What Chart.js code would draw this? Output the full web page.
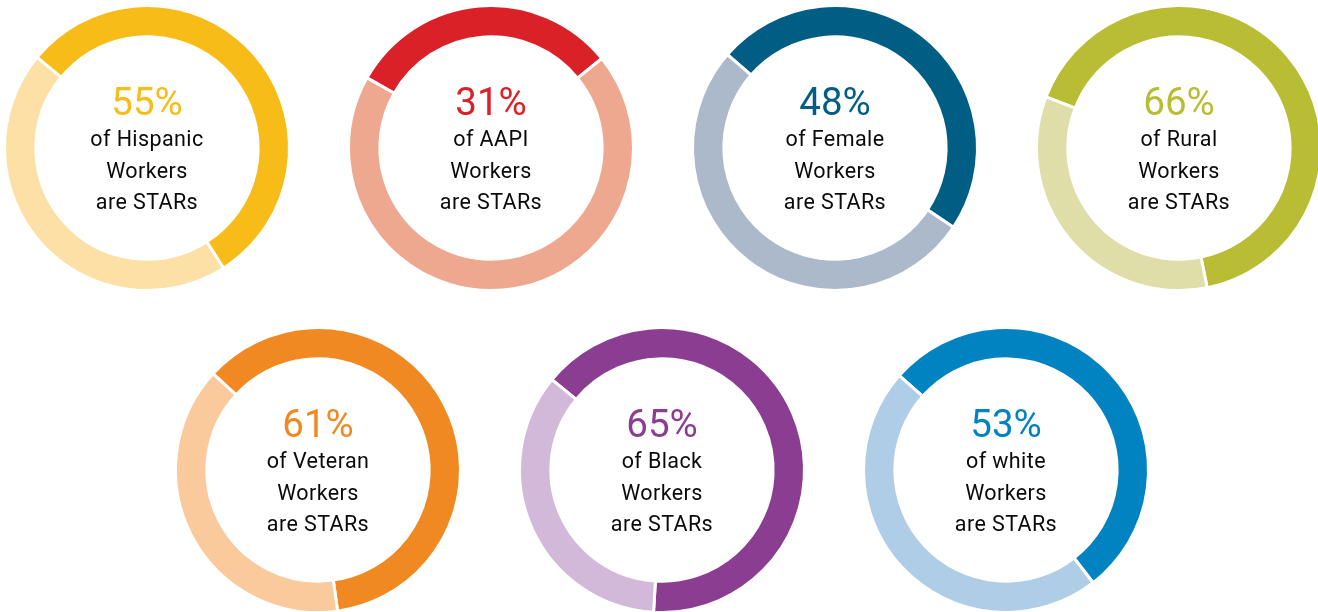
<!DOCTYPE html>
<html>
<head>
<meta charset="utf-8">
<script src="https://cdn.jsdelivr.net/npm/chart.js@4"></script>
<style>
	html, body { margin: 0; padding: 0; background: #fff; }
	body { width: 1318px; height: 612px; position: relative; overflow: hidden; font-family: Roboto, sans-serif; }
	.donut { position: absolute; width: 300px; height: 300px; }
	.donut canvas { position: absolute; left: 0; top: 0; }
	.label { position: absolute; left: 0; width: 300px; text-align: center; color: #0a0a0a; white-space: nowrap; }
	.pct { font-size: 38.5px; line-height: 1; font-weight: 400; }
	.line { font-size: 21.5px; line-height: 1; letter-spacing: 0.4px; }
</style>
</head>
<body>
<script>
const groups = ['Hispanic', 'AAPI', 'Female', 'Rural', 'Veteran', 'Black', 'white'];
const starShares = [55, 31, 48, 66, 61, 65, 53];

const darkColors = ['#f7bc18', '#da2128', '#005e85', '#b8bd33', '#f18922', '#8b3e91', '#0083c0'];
const lightColors = ['#fde0a6', '#eda88f', '#abb9cb', '#dfdea8', '#fac99c', '#d2b8d9', '#afcde6'];
const rotations = [-50.5, -60.5, -49, -69, -47.5, -50.6, -48.5];

function centerOf(i) {
	// four on top, three below shifted half a step
	if (i < 4) return { x: 147 + 344 * i, y: 148 };
	return { x: 318 + 344 * (i - 4), y: 470 };
}

function addLabel(box, text, cls, baseline) {
	const el = document.createElement('div');
	el.className = 'label ' + cls;
	el.textContent = text;
	box.appendChild(el);
	// place so the text baseline sits at the wanted offset from the centre
	const probe = document.createElement('span');
	probe.style.display = 'inline-block';
	probe.style.width = '0';
	probe.style.height = '0';
	el.appendChild(probe);
	const base = probe.offsetTop;
	el.style.top = (150 + baseline - base) + 'px';
	return el;
}

groups.forEach((group, i) => {
	const c = centerOf(i);
	const box = document.createElement('div');
	box.className = 'donut';
	box.style.left = (c.x - 150) + 'px';
	box.style.top = (c.y - 150) + 'px';
	document.body.appendChild(box);

	const canvas = document.createElement('canvas');
	canvas.width = 300;
	canvas.height = 300;
	box.appendChild(canvas);

	new Chart(canvas, {
		type: 'doughnut',
		data: {
			labels: ['STARs', 'Other'],
			datasets: [{
				data: [starShares[i], 100 - starShares[i]],
				backgroundColor: [darkColors[i], lightColors[i]],
				borderColor: '#fff',
				borderWidth: 3,
			}],
		},
		options: {
			responsive: false,
			animation: false,
			radius: 142.5,
			cutout: '78%',
			rotation: rotations[i],
			plugins: {
				legend: { display: false },
				tooltip: { enabled: false },
			},
			events: [],
		},
	});

	const pct = addLabel(box, `${starShares[i]}%`, 'pct', -33.5);
	pct.style.color = darkColors[i];
	addLabel(box, `of ${group}`, 'line', -2);
	addLabel(box, 'Workers', 'line', 29.5);
	addLabel(box, 'are STARs', 'line', 61);
});
</script>
</body>
</html>
